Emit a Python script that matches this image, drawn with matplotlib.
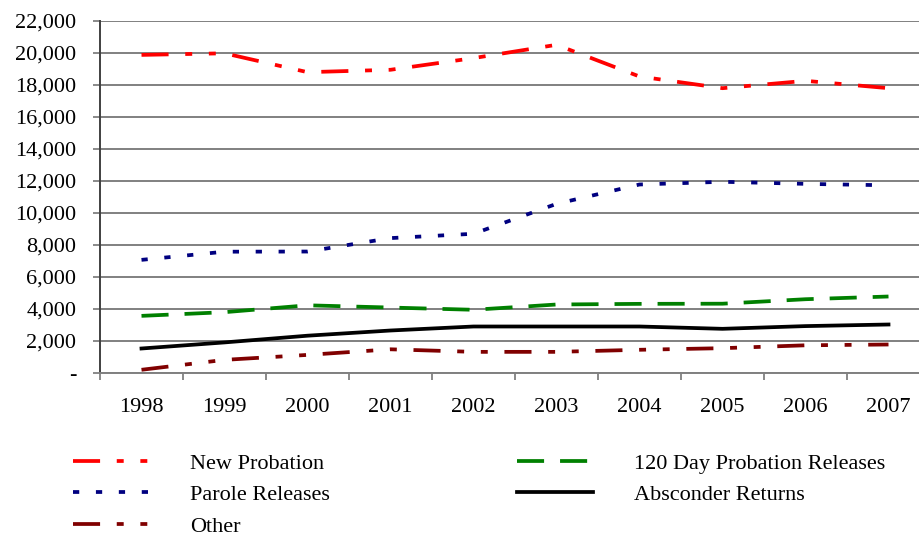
import matplotlib
matplotlib.use("Agg")
import matplotlib.pyplot as plt
from matplotlib.ticker import FuncFormatter, FixedLocator

plt.rcParams['font.family'] = ['Liberation Serif', 'DejaVu Serif']
plt.rcParams['lines.scale_dashes'] = False

years = ['1998', '1999', '2000', '2001', '2002', '2003', '2004', '2005', '2006', '2007']
new_probation = [19850, 19950, 18770, 18920, 19650, 20480, 18500, 17770, 18230, 17770]
parole_releases = [7040, 7550, 7560, 8400, 8670, 10540, 11750, 11920, 11790, 11700]
day120_releases = [3540, 3770, 4200, 4060, 3920, 4250, 4290, 4300, 4580, 4750]
absconder_returns = [1500, 1880, 2300, 2625, 2875, 2875, 2875, 2730, 2900, 3000]
other = [170, 790, 1100, 1450, 1290, 1290, 1420, 1520, 1700, 1750]

fig = plt.figure(figsize=(9.2, 5.39), dpi=100)
ax = fig.add_axes([100/920, 1-372.5/539, 830/920, (372.5-20.5)/539])

x = list(range(len(years)))
lw = 2.7
dashdotdot = (0, (19.5, 12, 5, 12, 5, 12))
l1, = ax.plot(x, new_probation, color='#FF0000', lw=lw, linestyle=dashdotdot, label='New Probation')
l2, = ax.plot(x, parole_releases, color='#000080', lw=lw, linestyle=(0, (4.5, 12)), label='Parole Releases')
l3, = ax.plot(x, day120_releases, color='#008000', lw=lw, linestyle=(0, (19.5, 11.5)), label='120 Day Probation Releases')
l4, = ax.plot(x, absconder_returns, color='#000000', lw=lw, linestyle='-', label='Absconder Returns')
l5, = ax.plot(x, other, color='#800000', lw=lw, linestyle=dashdotdot, label='Other')

ax.set_xlim(-0.5, len(years) - 0.5)
ax.set_ylim(0, 22000)
ax.set_yticks(range(0, 22001, 2000))
ax.yaxis.set_major_formatter(FuncFormatter(lambda v, p: '-' if v == 0 else f'{int(v):,}'))
ax.set_xticks(x)
ax.set_xticklabels(years)
ax.xaxis.set_minor_locator(FixedLocator([i - 0.5 for i in range(len(years) + 1)]))
ax.tick_params(axis='x', which='major', length=0, pad=18, labelsize=16)
ax.tick_params(axis='x', which='minor', length=5, width=1.3, color='#808080', direction='out')
ax.tick_params(axis='y', length=5, width=1.3, color='#808080', pad=12, labelsize=16)

ax.grid(axis='y', color='#808080', lw=1.4)
ax.set_axisbelow(True)
for s in ['top', 'right']:
    ax.spines[s].set_visible(False)
ax.spines['left'].set_color('#404040')
ax.spines['left'].set_linewidth(1.4)
ax.spines['bottom'].set_color('#808080')
ax.spines['bottom'].set_linewidth(1.4)

handles = [l1, l2, l5, l3, l4]
fig.legend(handles, [h.get_label() for h in handles], ncol=2, frameon=False,
           loc='upper left', bbox_to_anchor=(73/920, 1-453/539), fontsize=16,
           handlelength=3.4, handletextpad=1.85, columnspacing=8.45,
           labelspacing=0.5, borderpad=0, borderaxespad=0)

fig.savefig('out.png', dpi=100)
